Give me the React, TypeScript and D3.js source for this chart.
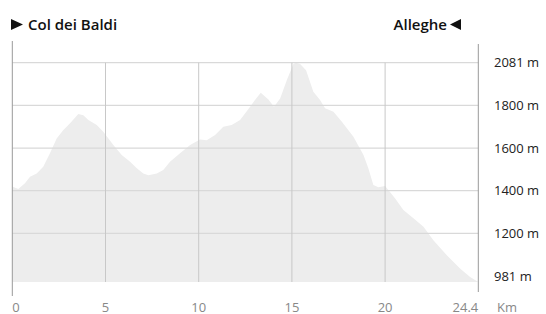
import React from "react";
import * as d3 from "d3";

// Elevation profile: distance (km) and elevation (m)
const distanceKm = [
  0, 0.32, 0.68, 0.95, 1.31, 1.66, 2.02, 2.38, 2.74, 3.1, 3.54, 3.81, 4.08, 4.53, 4.88,
  5.42, 5.87, 6.32, 6.68, 7.03, 7.3, 7.75, 8.1, 8.46, 9.0, 9.54, 10.07, 10.43, 10.88,
  11.32, 11.77, 12.22, 12.76, 13.02, 13.33, 13.74, 14.04, 14.37, 14.73, 15.08, 15.22,
  15.44, 15.76, 16.15, 16.51, 16.78, 17.23, 17.68, 18.3, 18.84, 19.1, 19.37, 19.64, 20.0,
  20.54, 20.98, 21.52, 22.06, 22.59, 23.31, 24.02, 24.56, 25.0,
];
const elevationM = [
  1420, 1408, 1435, 1466, 1481, 1512, 1575, 1645, 1684, 1716, 1759, 1754, 1731, 1708, 1676,
  1614, 1567, 1536, 1505, 1481, 1473, 1481, 1497, 1536, 1575, 1614, 1640, 1637, 1661,
  1700, 1708, 1731, 1794, 1835, 1883, 1839, 1794, 1846, 1967, 2072, 2081,
  2072, 2032, 1890, 1835, 1786, 1770, 1723, 1653, 1567, 1505, 1427, 1416, 1422,
  1364, 1310, 1271, 1231, 1169, 1102, 1042, 1004, 981,
];

const xTicks = [0, 5, 10, 15, 20];
const xTickLabels = ["0", "5", "10", "15", "20"];
const totalDistanceLabel = "24.4";
const xUnit = "Km";
const yTicks = [2081, 1800, 1600, 1400, 1200, 981];
const yTickLabels = ["2081 m", "1800 m", "1600 m", "1400 m", "1200 m", "981 m"];
const startName = "Col dei Baldi";
const endName = "Alleghe";

const W = 546;
const H = 314;
const left = 12.3;
const right = 478.3;
const top = 62.7;
const step = 42.67;
const bottom = 282;

export default function App() {
  const x = d3.scaleLinear().domain([0, 25]).range([left, right]);
  const y = d3
    .scaleLinear()
    .domain([981, 1200, 1400, 1600, 1800, 2081])
    .range([bottom, top + 4 * step, top + 3 * step, top + 2 * step, top + step, top]);

  const pts = distanceKm.map((d, i) => [d, elevationM[i]] as [number, number]);
  const area = d3
    .area<[number, number]>()
    .x((d) => x(d[0]))
    .y0(bottom)
    .y1((d) => y(d[1]))(pts) as string;

  const font = "'Open Sans', 'Noto Sans', sans-serif";

  return (
    <svg
      width={W}
      height={H}
      style={{ position: "absolute", left: 0, top: 0, display: "block", background: "#fff" }}
      fontFamily={font}
    >
      <path d={area} fill="#ededed" />
      {yTicks.slice(0, 5).map((t) => (
        <line key={"h" + t} x1={left} x2={right} y1={y(t)} y2={y(t)} stroke="#d9d9d9" strokeWidth={1.2} />
      ))}
      {xTicks.slice(1).map((t) => (
        <line key={"v" + t} x1={x(t)} x2={x(t)} y1={top} y2={bottom} stroke="#c8c8c8" strokeWidth={1} />
      ))}
      <line x1={left} x2={left} y1={41} y2={296} stroke="#999" strokeWidth={1} />
      <line x1={right} x2={right} y1={44} y2={292} stroke="#999" strokeWidth={1} />

      {yTicks.map((t, i) => (
        <text
          key={"yl" + t}
          x={494}
          y={Math.min(y(t), bottom - 5.5)}
          dy="0.35em"
          fontSize={13}
          fill="#222"
        >
          {yTickLabels[i]}
        </text>
      ))}

      {xTicks.map((t, i) => (
        <text
          key={"xl" + t}
          x={x(t)}
          y={312}
          fontSize={13}
          fill="#888"
          textAnchor={i === 0 ? "start" : "middle"}
        >
          {xTickLabels[i]}
        </text>
      ))}
      <text x={right} y={312} fontSize={13} fill="#888" textAnchor="end">
        {totalDistanceLabel}
      </text>
      <text x={497} y={312} fontSize={13} fill="#888">
        {xUnit}
      </text>

      <path d="M11,19 L23,24.5 L11,30 Z" fill="#111" />
      <text x={28} y={30} fontSize={15} fontWeight={600} fill="#111">
        {startName}
      </text>
      <text x={447} y={30} fontSize={15} fontWeight={600} fill="#111" textAnchor="end">
        {endName}
      </text>
      <path d="M461,19 L450,24.5 L461,30 Z" fill="#111" />
    </svg>
  );
}
